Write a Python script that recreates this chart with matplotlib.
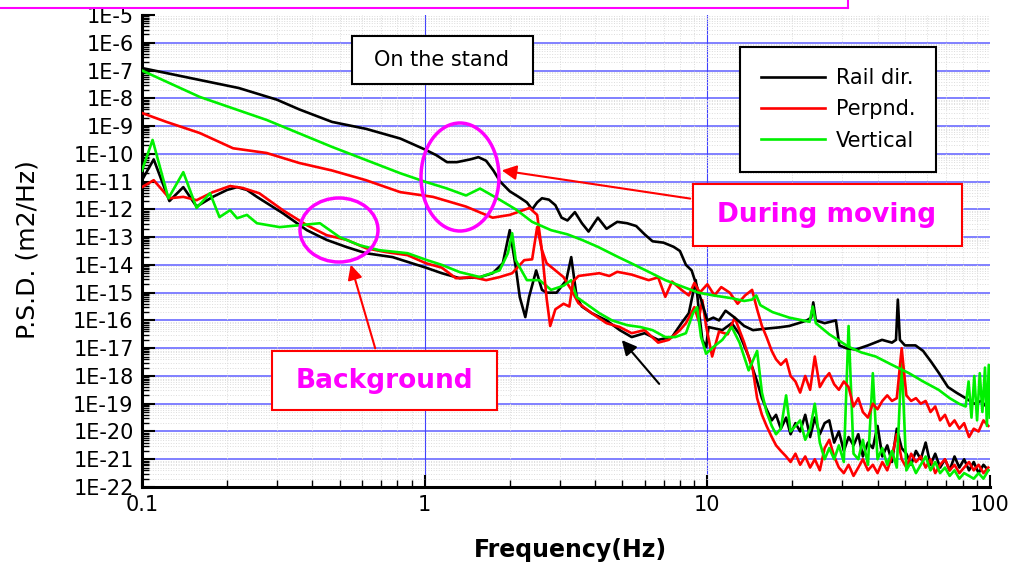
import numpy as np
import matplotlib
matplotlib.use("Agg")
import matplotlib.pyplot as plt
from matplotlib.patches import Ellipse, Rectangle, FancyArrowPatch
from matplotlib.lines import Line2D

# -----------------------------
# Data: frequency (Hz) and log10 PSD (m2/Hz)
# -----------------------------
# During moving
mov_rail_f = [0.1, 0.13, 0.16, 0.22, 0.3, 0.36, 0.47, 0.62, 0.82, 1.0, 1.1, 1.2, 1.3, 1.45, 1.55,
              1.65, 1.75, 1.85, 2.0, 2.15, 2.3, 2.4, 2.5, 2.6, 2.75, 2.9, 3.05, 3.2, 3.4, 3.6,
              3.8, 4.1, 4.4, 4.8, 5.2, 5.6, 6.0, 6.4, 7.0, 7.6, 8.0, 8.4, 8.8, 9.2, 9.6, 10.0,
              10.5, 11.0, 11.6, 12.5, 13.5, 14.5, 16, 18, 19.5, 21, 22.5, 23.3, 23.7, 24.2, 26,
              28.5, 29.3, 31, 33.5, 37, 41.5, 45, 46.5, 47.2, 48, 50, 54.5, 58, 62, 66, 71, 76,
              82, 88, 93, 97]
mov_rail_e = [-6.91, -7.15, -7.34, -7.63, -8.05, -8.4, -8.85, -9.1, -9.45, -9.84, -10.05, -10.3,
              -10.3, -10.2, -10.12, -10.25, -10.6, -11.0, -11.35, -11.55, -11.75, -12.0, -11.75,
              -11.6, -11.65, -11.85, -12.3, -12.4, -12.1, -12.5, -12.8, -12.3, -12.7, -12.45,
              -12.5, -12.6, -12.9, -13.15, -13.2, -13.35, -13.5, -14.0, -14.2, -14.8, -15.4,
              -16.0, -15.9, -16.0, -15.65, -15.9, -16.2, -16.35, -16.3, -16.25, -16.2, -16.1,
              -16.0, -15.9, -15.35, -16.0, -16.1, -16.0, -16.9, -17.0, -17.05, -16.9, -16.7,
              -16.8, -16.7, -15.25, -16.7, -16.9, -16.9, -17.1, -17.5, -17.9, -18.4, -18.6,
              -18.8, -19.0, -18.9, -19.1]

mov_perp_f = [0.1, 0.122, 0.16, 0.21, 0.276, 0.36, 0.47, 0.62, 0.82, 1.07, 1.4, 1.74, 2.0, 2.35,
              2.5, 2.6, 2.7, 2.78, 2.9, 3.1, 3.25, 3.35, 3.5, 3.8, 4.15, 4.5, 4.8, 5.4, 6.2, 6.7,
              7.1, 7.5, 8.1, 8.6, 9.0, 9.4, 10.0, 10.6, 11.2, 12.0, 12.8, 13.6, 14.4,
              15.0, 15.6, 16.2, 16.9, 17.5, 18.2, 19.0, 19.7, 20.5, 21.3, 22.2, 23.1, 24.0, 25.0,
              26.0, 27.0, 28.1, 29.2, 30.4, 31.6, 32.9, 34.2, 35.5, 37.0, 38.5, 40.0, 41.6, 43.3,
              45.0, 46.8, 48.7, 50.6, 52.6, 54.7, 56.9, 59.2, 61.6, 64.0, 66.6, 69.3, 72.0, 74.9,
              77.9, 81.0, 84.3, 87.6, 91.1, 94.8, 98.6]
mov_perp_e = [-8.53, -8.85, -9.25, -9.8, -9.97, -10.33, -10.6, -10.95, -11.38, -11.55, -11.9,
              -12.3, -12.2, -11.95, -12.2, -13.5, -15.2, -16.2, -15.6, -15.4, -15.5, -14.6,
              -14.4, -14.35, -14.3, -14.4, -14.25, -14.35, -14.55, -14.45, -15.15, -14.6,
              -14.9, -15.1, -14.65, -15.0, -14.7, -15.1, -14.8, -15.0, -15.4, -15.1, -14.9,
              -15.6, -16.2, -16.6, -17.1, -17.4, -17.6, -17.4, -18.0, -18.2, -18.6, -18.0,
              -18.5, -17.3, -18.4, -18.1, -17.9, -18.3, -18.5, -18.2, -18.4, -19.1, -18.8,
              -19.3, -19.5, -19.0, -19.2, -18.9, -18.7, -18.9, -18.8, -17.0, -18.7, -18.9,
              -18.8, -19.0, -18.9, -19.3, -19.1, -19.6, -19.4, -19.8, -19.6, -19.9, -19.7,
              -20.2, -19.9, -20.0, -19.6, -19.8]

mov_vert_f = [0.1, 0.16, 0.276, 0.47, 0.82, 1.0, 1.2, 1.4, 1.5, 1.57, 1.7, 1.84, 2.1, 2.4, 2.8,
              3.2, 3.6, 4.1, 4.8, 5.4, 6.2, 7.1, 8.0, 9.3, 10.5, 12.2, 13.5, 14.4, 14.9, 15.4,
              17, 19.5, 23, 23.6, 24.2, 27, 31.6, 35, 39.4, 45, 51.7, 58, 65.8, 72, 77.7, 82,
              84, 86, 88, 90, 92, 94, 96, 97.5, 99, 100]
mov_vert_e = [-7.0, -7.95, -8.78, -9.75, -10.7, -11.0, -11.25, -11.5, -11.35, -11.25, -11.45,
              -11.65, -12.0, -12.45, -12.75, -12.9, -13.1, -13.35, -13.7, -13.95, -14.25,
              -14.55, -14.75, -15.0, -15.1, -15.2, -15.3, -15.25, -15.1, -15.45, -15.7, -15.9,
              -16.05, -15.5, -16.1, -16.5, -16.95, -17.15, -17.3, -17.6, -17.9, -18.2, -18.5,
              -18.8, -19.0, -19.1, -18.2, -19.5, -18.0, -19.6, -17.9, -19.3, -17.7, -19.8,
              -17.6, -19.5]

# Background
bg_rail_f = [0.1, 0.11, 0.125, 0.14, 0.156, 0.178, 0.2, 0.217, 0.235, 0.255, 0.315, 0.383, 0.45,
             0.53, 0.62, 0.77, 0.94, 1.01, 1.15, 1.33, 1.57, 1.74, 1.89, 2.0, 2.1, 2.17, 2.27,
             2.34, 2.48, 2.6, 2.7, 2.93, 3.17, 3.3, 3.45, 3.6, 3.9, 4.4, 4.9, 5.4, 6.0, 6.7,
             7.5, 8.1, 8.6, 9.1, 9.3, 9.6, 9.9, 10.1, 11.3, 12.2, 13.0, 14.0,
             15.0, 15.6, 16.2, 16.9, 17.5, 18.2, 19.0, 19.7, 20.5, 21.3, 22.2, 23.1, 24.0, 25.0,
             26.0, 27.0, 28.1, 29.2, 30.4, 31.6, 32.9, 34.2, 35.5, 37.0, 38.5, 40.0, 41.6, 43.3,
             45.0, 46.8, 48.7, 50.6, 52.6, 54.7, 56.9, 59.2, 61.6, 64.0, 66.6, 69.3, 72.0, 74.9,
             77.9, 81.0, 84.3, 87.6, 91.1, 94.8, 98.6]
bg_rail_e = [-10.95, -10.2, -11.7, -11.2, -11.9, -11.55, -11.3, -11.2, -11.3, -11.55, -12.14,
             -12.75, -13.1, -13.36, -13.58, -13.72, -14.0, -14.1, -14.3, -14.48, -14.44,
             -14.3, -13.94, -12.75, -14.08, -15.16, -15.88, -15.16, -14.2, -14.9, -15.0,
             -15.0, -14.55, -13.72, -15.16, -15.5, -15.74, -16.0, -16.35, -16.6, -16.46,
             -16.7, -16.6, -16.1, -15.74, -14.55, -15.5, -16.7, -16.96, -16.24, -16.35, -16.1,
             -16.5, -17.3,
             -18.2, -18.8, -19.2, -19.6, -19.4, -19.9, -19.5, -20.1, -19.7, -20.0, -19.4, -20.2,
             -19.5, -20.1, -19.7, -19.6, -20.4, -20.0, -20.7, -20.2, -20.5, -20.1, -20.9, -20.4,
             -20.6, -19.8, -20.9, -20.5, -21.1, -19.9, -20.6, -20.8, -21.2, -20.7, -21.0, -20.4,
             -21.2, -20.8, -21.3, -21.0, -21.4, -20.9, -21.3, -21.0, -21.4, -21.1, -21.5, -21.2,
             -21.4]

bg_perp_f = [0.1, 0.11, 0.125, 0.14, 0.156, 0.178, 0.205, 0.227, 0.26, 0.315, 0.383, 0.45, 0.53,
             0.62, 0.73, 0.87, 1.01, 1.15, 1.29, 1.48, 1.65, 1.84, 2.04, 2.25, 2.4, 2.5, 2.6,
             2.7, 3.1, 3.3, 3.5, 3.9, 4.4, 4.9, 5.4, 6.0, 6.7, 7.3, 8.0, 8.4, 9.0, 9.3, 9.6,
             9.9, 10.4, 11.0, 11.8, 12.5, 13.5, 14.5,
             15.0, 15.6, 16.2, 16.9, 17.5, 18.2, 19.0, 19.7, 20.5, 21.3, 22.2, 23.1, 24.0, 25.0,
             26.0, 27.0, 28.1, 29.2, 30.4, 31.6, 32.9, 34.2, 35.5, 37.0, 38.5, 40.0, 41.6, 43.3,
             45.0, 46.8, 48.7, 50.6, 52.6, 54.7, 56.9, 59.2, 61.6, 64.0, 66.6, 69.3, 72.0, 74.9,
             77.9, 81.0, 84.3, 87.6, 91.1, 94.8, 98.6]
bg_perp_e = [-11.2, -10.95, -11.6, -11.55, -11.67, -11.38, -11.16, -11.23, -11.42, -12.03,
             -12.57, -12.93, -13.1, -13.4, -13.54, -13.65, -13.94, -14.1, -14.48, -14.44,
             -14.55, -14.44, -14.3, -13.83, -13.8, -12.64, -13.47, -13.94, -14.44, -14.9,
             -15.38, -15.74, -16.1, -16.24, -16.46, -16.35, -16.8, -16.7, -16.35, -16.1,
             -15.52, -16.0, -15.27, -16.2, -17.3, -16.4, -16.5, -15.9, -16.8, -17.8,
             -18.8, -19.4, -19.8, -20.2, -20.5, -20.7, -20.9, -21.1, -20.8, -21.2, -20.9, -21.3,
             -21.0, -21.4, -20.6, -20.3, -20.9, -21.3, -21.5, -21.2, -21.6, -21.3, -21.0, -21.4,
             -21.2, -21.5, -21.1, -21.4, -20.9, -20.1, -21.0, -21.3, -20.8, -21.1, -20.9, -21.3,
             -21.0, -21.5, -21.2, -21.0, -21.4, -21.2, -21.5, -21.3, -21.1, -21.4, -21.2, -21.5,
             -21.3]

bg_vert_f = [0.1, 0.109, 0.124, 0.14, 0.156, 0.174, 0.188, 0.205, 0.217, 0.235, 0.255, 0.307,
             0.362, 0.426, 0.5, 0.588, 0.69, 0.87, 1.02, 1.15, 1.33, 1.57, 1.84, 1.97, 2.04,
             2.1, 2.3, 2.55, 2.8, 3.1, 3.3, 3.45, 3.7, 4.15, 4.6, 5.2, 5.8, 6.4, 7.1, 7.7, 8.4,
             8.9, 9.2, 9.5, 9.9, 10.5, 11.3, 12.2, 13.0, 14.0,
             15.0, 15.6, 16.2, 16.9, 17.5, 18.2, 19.0, 19.7, 20.5, 21.3, 22.2, 23.1, 24.0, 25.0,
             26.0, 27.0, 28.1, 29.2, 30.4, 31.6, 32.9, 34.2, 35.5, 37.0, 38.5, 40.0, 41.6, 43.3,
             45.0, 46.8, 48.7, 50.6, 52.6, 54.7, 56.9, 59.2, 61.6, 64.0, 66.6, 69.3, 72.0, 74.9,
             77.9, 81.0, 84.3, 87.6, 91.1, 94.8, 98.6]
bg_vert_e = [-10.6, -9.5, -11.6, -10.66, -11.95, -11.42, -12.28, -12.03, -12.32, -12.2, -12.5,
             -12.64, -12.57, -12.5, -13.0, -13.29, -13.47, -13.58, -13.83, -14.0, -14.26,
             -14.44, -14.2, -13.58, -12.86, -13.83, -14.55, -14.55, -14.9, -14.75, -14.55,
             -15.16, -15.38, -15.74, -16.0, -16.17, -16.24, -16.35, -16.6, -16.6, -16.46,
             -15.74, -15.52, -16.6, -17.2, -16.96, -16.7, -16.24, -16.8, -17.8,
             -17.1, -18.6, -19.3, -19.8, -20.1, -19.9, -18.7, -20.0, -19.8, -19.6, -20.3, -19.9,
             -19.0, -20.4, -21.0, -20.6, -21.0, -20.5, -21.1, -16.2, -20.8, -21.0, -20.3, -21.2,
             -17.9, -21.0, -20.6, -21.2, -20.7, -21.3, -17.4, -21.4, -21.1, -21.5, -21.2, -20.9,
             -21.4, -21.1, -21.5, -21.3, -21.6, -21.4, -21.7, -21.5, -21.6, -21.7, -21.5, -21.7,
             -21.4]

ytick_exps = list(range(-5, -23, -1))
ytick_labels = ["1E-%d" % (-k) for k in ytick_exps]
xtick_vals = [0.1, 1, 10, 100]
xtick_labels = ["0.1", "1", "10", "100"]

BLACK = "#000000"
RED = "#ff0000"
GREEN = "#00f000"
MAGENTA = "#ff00ff"

W, H = 1012, 570


def fx(px):
    return px / W


def fy(py):
    return 1 - py / H


# -----------------------------
# Figure
# -----------------------------
fig = plt.figure(figsize=(W / 100, H / 100), dpi=100)
ax = fig.add_axes([fx(142), fy(487), fx(990) - fx(142), fy(15) - fy(487)])
ax.set_xscale("log")
ax.set_yscale("log")

lw = 1.9
for f, e, c in [(bg_rail_f, bg_rail_e, BLACK), (bg_perp_f, bg_perp_e, RED),
                (bg_vert_f, bg_vert_e, GREEN)]:
    ax.plot(f, 10.0 ** np.array(e), color=c, lw=lw, zorder=3)

l1, = ax.plot(mov_rail_f, 10.0 ** np.array(mov_rail_e), color=BLACK, lw=lw, zorder=4, label="Rail dir.")
l2, = ax.plot(mov_perp_f, 10.0 ** np.array(mov_perp_e), color=RED, lw=lw, zorder=4, label="Perpnd.")
l3, = ax.plot(mov_vert_f, 10.0 ** np.array(mov_vert_e), color=GREEN, lw=lw, zorder=5, label="Vertical")

ax.set_xlim(0.1, 100)
ax.set_ylim(1e-22, 1e-5)

ax.set_yticks([10.0 ** k for k in ytick_exps])
ax.set_yticklabels(ytick_labels)
ax.yaxis.set_minor_locator(matplotlib.ticker.LogLocator(base=10, subs=np.arange(2, 10), numticks=40))
ax.yaxis.set_minor_formatter(matplotlib.ticker.NullFormatter())
ax.set_xticks(xtick_vals)
ax.set_xticklabels(xtick_labels)
ax.xaxis.set_minor_locator(matplotlib.ticker.LogLocator(base=10, subs=np.arange(2, 10), numticks=20))
ax.xaxis.set_minor_formatter(matplotlib.ticker.NullFormatter())

ax.tick_params(which="major", direction="in", length=9, width=1.5, labelsize=15, pad=6)
ax.tick_params(which="minor", direction="in", length=5, width=1.0)

for s in ["top", "right"]:
    ax.spines[s].set_visible(False)
for s in ["left", "bottom"]:
    ax.spines[s].set_linewidth(2.2)

# grid
ax.grid(which="minor", color="#dcdcdc", ls=":", lw=0.7, zorder=0)
for k in ytick_exps[1:]:
    ax.axhline(10.0 ** k, color="#8080ff", lw=1.4, zorder=1)
for v in [1, 10]:
    ax.axvline(v, color="#4040ff", lw=0.8, zorder=1)

fig.text(fx(28), fy(250), "P.S.D. (m2/Hz)", rotation=90, ha="center", va="center", fontsize=18)
fig.text(fx(570), fy(550), "Frequency(Hz)", ha="center", va="center", fontsize=17, fontweight="bold")

# legend
leg = fig.legend(handles=[l1, l2, l3], loc="upper left", bbox_to_anchor=(fx(740), fy(47)),
                 borderaxespad=0, fontsize=15, handlelength=3.1, labelspacing=0.55,
                 borderpad=1.0, handletextpad=0.5, fancybox=False, framealpha=1,
                 edgecolor="black")
leg.get_frame().set_linewidth(1.5)

# "On the stand" box
fig.patches.append(Rectangle((fx(352), fy(84)), fx(533) - fx(352), fy(36) - fy(84),
                             transform=fig.transFigure, fc="white", ec="black", lw=1.5, zorder=6))
fig.text(fx(442), fy(60), "On the stand", ha="center", va="center", fontsize=15, zorder=7)

# ellipses
fig.patches.append(Ellipse((fx(460), fy(177)), 78 / W, 108 / H, transform=fig.transFigure,
                           fill=False, ec=MAGENTA, lw=2.5, zorder=8))
fig.patches.append(Ellipse((fx(339), fy(230)), 78 / W, 64 / H, transform=fig.transFigure,
                           fill=False, ec=MAGENTA, lw=2.5, zorder=8))

# labelled boxes
fig.patches.append(Rectangle((fx(693), fy(246)), fx(962) - fx(693), fy(184) - fy(246),
                             transform=fig.transFigure, fc="white", ec=RED, lw=1.5, zorder=6))
fig.text(fx(827), fy(215), "During moving", ha="center", va="center", fontsize=19,
         fontweight="bold", color=MAGENTA, zorder=7)
fig.patches.append(Rectangle((fx(272), fy(410)), fx(497) - fx(272), fy(351) - fy(410),
                             transform=fig.transFigure, fc="white", ec=RED, lw=1.5, zorder=6))
fig.text(fx(384), fy(381), "Background", ha="center", va="center", fontsize=19,
         fontweight="bold", color=MAGENTA, zorder=7)

# arrows
for (x0, y0, x1, y1, c) in [(693, 199, 499, 170, RED), (376, 351, 350, 262, RED),
                            (661, 386, 620, 338, BLACK)]:
    fig.patches.append(FancyArrowPatch((fx(x0), fy(y0)), (fx(x1), fy(y1)), transform=fig.transFigure,
                                       arrowstyle="-|>", mutation_scale=22, color=c, lw=1.5, zorder=9))

# magenta frame edge at top
fig.lines.append(Line2D([0, fx(848)], [fy(8), fy(8)], transform=fig.transFigure, color=MAGENTA, lw=1.5))
fig.lines.append(Line2D([fx(848), fx(848)], [fy(0), fy(8)], transform=fig.transFigure, color=MAGENTA, lw=1.5))

fig.savefig("out.png", dpi=100)
